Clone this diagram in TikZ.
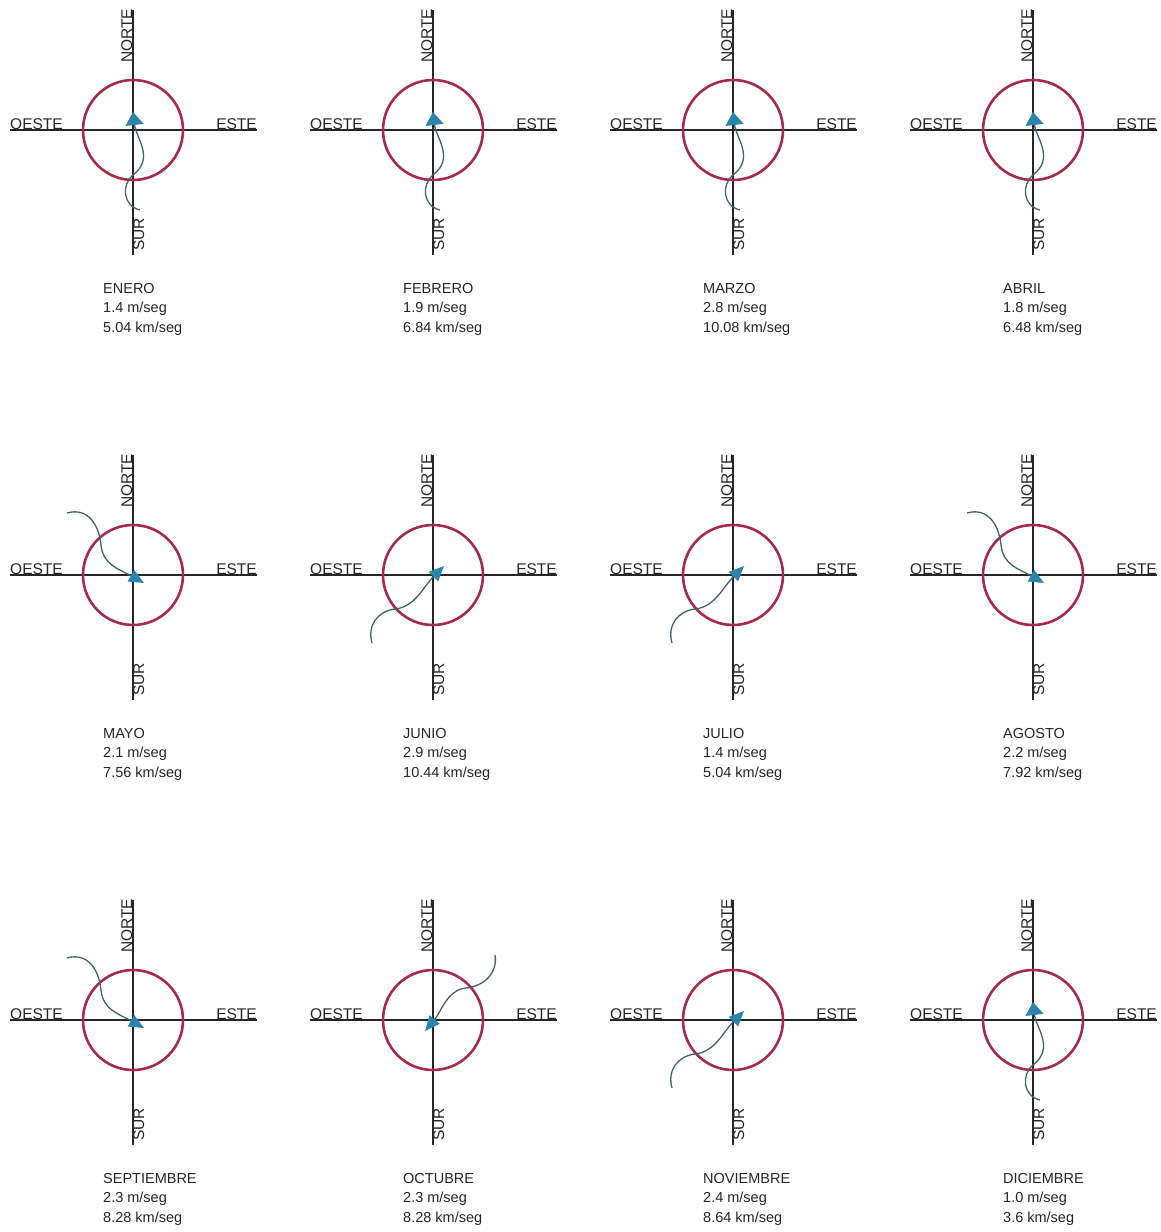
\documentclass[tikz,border=0pt]{standalone}
\usepackage{fontspec}
\setmainfont{Liberation Sans}
\usetikzlibrary{arrows.meta}
\definecolor{ringred}{RGB}{165,42,76}
\definecolor{windtip}{RGB}{42,132,172}
\definecolor{windline}{RGB}{62,100,110}
\tikzset{
  axisline/.style={draw=black!85, line width=1.1pt},
  ring/.style={draw=ringred, line width=2.6pt},
  dirlabel/.style={inner sep=0pt, text=black!85, font=\fontsize{15.5}{18}\selectfont},
  monthlabel/.style={inner sep=0pt, anchor=base west, text=black!85, font=\fontsize{14.5}{17}\selectfont},
  windcurve/.style={draw=windline, line width=1.3pt},
  tipN/.style={-{Triangle[width=18pt,length=13pt,color=windtip]}},
  tipD/.style={-{Triangle[width=13pt,length=15pt,color=windtip]}},
  pics/compass/.style n args={3}{code={
    \draw[axisline] (-123,0) -- (124,0);
    \draw[axisline] (0,-120) -- (0,125);
    \draw[ring] (0,0) circle[radius=50pt];
    \node[dirlabel, anchor=base west] (-oeste) at (-123,-1) {OESTE};
    \node[dirlabel, anchor=base east] (-este) at (124,-1) {ESTE};
    \node[dirlabel, anchor=base west, rotate=90] (-norte) at (-1,-67) {NORTE};
    \node[dirlabel, anchor=base west, rotate=90] (-sur) at (11,121) {SUR};
    \node[monthlabel] (-mes) at (-30,163) {#1};
    \node[monthlabel] (-ms) at (-30,182.5) {#2};
    \node[monthlabel] (-kms) at (-30,202) {#3};
  }},
  pics/windN/.style={code={
    \draw[windcurve,tipN] (7,80) .. controls (-10,76) and (-12,55) .. (0,45)
      .. controls (22,28) and (3,8) .. (0,-18);
  }},
  pics/windSE/.style={code={
    \draw[windcurve,tipD] (-66,-62) .. controls (-45,-68) and (-34,-50) .. (-32,-30)
      .. controls (-30,-10) and (-14,-6) .. (11,8);
  }},
  pics/windNE/.style={code={
    \draw[windcurve,tipD] (-61,68) .. controls (-66,50) and (-55,36) .. (-38,34)
      .. controls (-18,32) and (-10,12) .. (11,-9);
  }},
  pics/windSW/.style={code={
    \draw[windcurve,tipD] (62,-65) .. controls (65,-48) and (52,-34) .. (33,-32)
      .. controls (14,-30) and (8,-8) .. (-8,11);
  }},
}
\begin{document}
\begin{tikzpicture}[x=1pt,y=-1pt]
\useasboundingbox[fill=white] (0,0) rectangle (1161,1232);
% row 1
\pic (c1) at (133,130) {compass={ENERO}{1.4 m/seg}{5.04 km/seg}};
\pic (w1) at (133,130) {windN};
\pic (c2) at (433,130) {compass={FEBRERO}{1.9 m/seg}{6.84 km/seg}};
\pic (w2) at (433,130) {windN};
\pic (c3) at (733,130) {compass={MARZO}{2.8 m/seg}{10.08 km/seg}};
\pic (w3) at (733,130) {windN};
\pic (c4) at (1033,130) {compass={ABRIL}{1.8 m/seg}{6.48 km/seg}};
\pic (w4) at (1033,130) {windN};
% row 2
\pic (c5) at (133,575) {compass={MAYO}{2.1 m/seg}{7.56 km/seg}};
\pic (w5) at (133,575) {windSE};
\pic (c6) at (433,575) {compass={JUNIO}{2.9 m/seg}{10.44 km/seg}};
\pic (w6) at (433,575) {windNE};
\pic (c7) at (733,575) {compass={JULIO}{1.4 m/seg}{5.04 km/seg}};
\pic (w7) at (733,575) {windNE};
\pic (c8) at (1033,575) {compass={AGOSTO}{2.2 m/seg}{7.92 km/seg}};
\pic (w8) at (1033,575) {windSE};
% row 3
\pic (c9) at (133,1020) {compass={SEPTIEMBRE}{2.3 m/seg}{8.28 km/seg}};
\pic (w9) at (133,1020) {windSE};
\pic (c10) at (433,1020) {compass={OCTUBRE}{2.3 m/seg}{8.28 km/seg}};
\pic (w10) at (433,1020) {windSW};
\pic (c11) at (733,1020) {compass={NOVIEMBRE}{2.4 m/seg}{8.64 km/seg}};
\pic (w11) at (733,1020) {windNE};
\pic (c12) at (1033,1020) {compass={DICIEMBRE}{1.0 m/seg}{3.6 km/seg}};
\pic (w12) at (1033,1020) {windN};
\end{tikzpicture}
\end{document}
